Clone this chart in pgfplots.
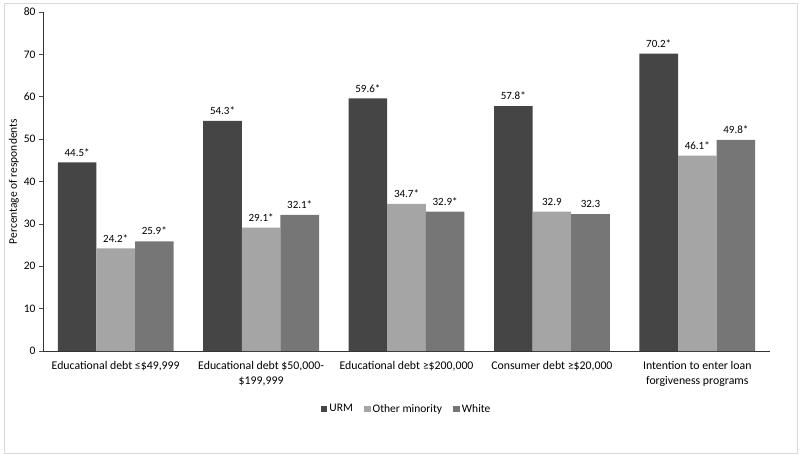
\documentclass[border=0pt]{standalone}
\usepackage{fontspec}
\setmainfont{Carlito}
\usepackage{pgfplots}
\pgfplotsset{compat=1.18}
\definecolor{urm}{HTML}{454545}
\definecolor{othmin}{HTML}{A5A5A5}
\definecolor{white}{HTML}{767676}
\definecolor{framec}{HTML}{D9D9D9}
\begin{document}
\begin{tikzpicture}
\useasboundingbox (0pt,0pt) rectangle (800pt,456pt);
\draw[framec, line width=0.8pt] (4pt,3pt) rectangle (797pt,453pt);
\begin{axis}[
  at={(43pt,105pt)}, anchor=south west,
  scale only axis, width=727pt, height=339pt,
  ybar=0pt, bar width=38.6pt,
  xmin=-0.5, xmax=4.5, ymin=0, ymax=80,
  xtick=data,
  xticklabels={{Educational debt ≤\$49,999}, {Educational debt \$50,000-\\\$199,999}, {Educational debt ≥\$200,000}, {Consumer debt ≥\$20,000}, {Intention to enter loan\\forgiveness programs}},
  xticklabel style={align=center, font=\fontsize{11.8}{14.5}\selectfont, yshift=-3pt},
  ytick={0,10,...,80},
  axis lines*=left,
  axis line style={black!80, line width=0.9pt},
  x axis line style={-},
  y axis line style={-},
  xtick style={draw=none},
  ytick style={black!70, line width=0.6pt},
  tick align=outside, major tick length=4pt,
  yticklabel style={font=\fontsize{11.5}{13}\selectfont},
  /pgf/number format/assume math mode=true,
  ylabel={Percentage of respondents},
  ylabel style={font=\fontsize{11.5}{13}\selectfont, yshift=-2pt},
  point meta=explicit symbolic,
  nodes near coords={\pgfplotspointmeta},
  every node near coord/.append style={font=\fontsize{11}{12}\selectfont, text=black, inner sep=0pt, anchor=south, yshift=6pt},
  legend columns=3,
  legend style={at={(0.5,-0.171)}, anchor=center, draw=none, fill=none, font=\fontsize{11.5}{13}\selectfont,
    /tikz/every even column/.append style={column sep=9pt}},
  legend image code/.code={\fill[#1,draw=none] (0pt,-3.3pt) rectangle (6.8pt,3.3pt);},
]
\addplot[fill=urm, draw=none] coordinates {(0,44.5)[44.5*] (1,54.3)[54.3*] (2,59.6)[59.6*] (3,57.8)[57.8*] (4,70.2)[70.2*]};
\addlegendentry{URM}
\addplot[fill=othmin, draw=none] coordinates {(0,24.2)[24.2*] (1,29.1)[29.1*] (2,34.7)[34.7*] (3,32.9)[32.9] (4,46.1)[46.1*]};
\addlegendentry{Other minority}
\addplot[fill=white, draw=none] coordinates {(0,25.9)[25.9*] (1,32.1)[32.1*] (2,32.9)[32.9*] (3,32.3)[32.3] (4,49.8)[49.8*]};
\addlegendentry{White}
\end{axis}
\end{tikzpicture}
\end{document}
